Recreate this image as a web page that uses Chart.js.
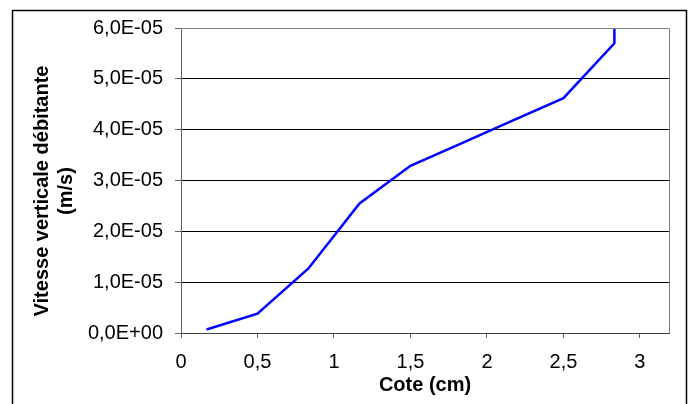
<!DOCTYPE html>
<html>
<head>
<meta charset="utf-8">
<title>Vitesse verticale débitante</title>
<script src="https://cdn.jsdelivr.net/npm/chart.js@4/dist/chart.umd.min.js"></script>
<style>
  body { margin: 0; background: #ffffff; }
  canvas { display: block; }
</style>
</head>
<body>
<canvas id="myChart" width="694" height="404"></canvas>
<script>
'use strict';

// Data
const cote = [0.167, 0.5, 0.833, 1.167, 1.5, 1.833, 2.167, 2.5, 2.833, 2.833];
const vitesse = [0.07e-5, 0.38e-5, 1.27e-5, 2.55e-5, 3.29e-5, 3.73e-5, 4.18e-5, 4.62e-5, 5.70e-5, 6.0e-5];

// Tick labels
const xTicks = [0, 0.5, 1, 1.5, 2, 2.5, 3];
const yTicks = [0, 1e-5, 2e-5, 3e-5, 4e-5, 5e-5, 6e-5];

// Axis texts
const xTitle = 'Cote (cm)';
const yTitle = ['Vitesse verticale débitante', '(m/s)'];

const fontFamily = "'Liberation Sans', Arial, sans-serif";
const ctx = document.getElementById('myChart');

// Helper Functions
function formatSci(value){
  if(Math.abs(value) < 1e-12){
    return '0,0E+00';
  }
  let parts = value.toExponential(1).split('e');
  let exp = parseInt(parts[1]);
  let sign = exp < 0 ? '-' : '+';
  return parts[0].replace('.', ',') + 'E' + sign + String(Math.abs(exp)).padStart(2, '0');
}

function formatCote(value){
  return String(value).replace('.', ',');
}

let points = [];
for(let i = 0; i < cote.length; i++){
  points.push({x: cote[i], y: vitesse[i]});
}

// draws the outer frame, the plot border and the y title
const framePlugin = {
  id: 'framePlugin',
  afterDraw(chart){
    const c = chart.ctx;
    const area = chart.chartArea;
    c.save();

    c.strokeStyle = '#808080';
    c.lineWidth = 1;
    c.beginPath();
    c.moveTo(area.left, area.top + 0.5);
    c.lineTo(area.right + 0.5, area.top + 0.5);
    c.lineTo(area.right + 0.5, area.bottom);
    c.stroke();

    c.strokeStyle = '#000000';
    c.lineWidth = 1.5;
    c.strokeRect(12.5, 10.5, 674, 400);

    c.fillStyle = '#000000';
    c.font = 'bold 20px ' + fontFamily;
    c.textAlign = 'center';
    c.textBaseline = 'middle';
    c.translate(42, 191);
    c.rotate(-Math.PI / 2);
    c.fillText(yTitle[0], 0, 0);
    c.fillText(yTitle[1], 0, 24);
    c.restore();
  }
};

let chartObj = {
  type: 'scatter',
  data: {
    datasets: [{
      data: points,
      showLine: true,
      borderColor: '#0000ff',
      borderWidth: 2.5,
      pointRadius: 0,
      tension: 0,
      fill: false
    }]
  },
  options: {
    responsive: false,
    animation: false,
    devicePixelRatio: 1,
    layout: {
      padding: {left: 0, top: 28, right: 25, bottom: 0}
    },
    plugins: {
      legend: {display: false},
      tooltip: {enabled: false}
    },
    scales: {
      x: {
        type: 'linear',
        min: 0,
        max: 3.19,
        afterBuildTicks: function(scale){
          scale.ticks = xTicks.map(v => ({value: v}));
        },
        afterFit: function(scale){
          scale.height = 71;
        },
        ticks: {
          color: '#000000',
          padding: 12,
          maxRotation: 0,
          autoSkip: false,
          font: {family: fontFamily, size: 20},
          callback: formatCote
        },
        grid: {
          drawOnChartArea: false,
          drawTicks: true,
          tickLength: 5,
          tickColor: '#606060'
        },
        border: {color: '#404040', width: 1},
        title: {
          display: true,
          text: xTitle,
          color: '#000000',
          font: {family: fontFamily, size: 20, weight: 'bold'},
          padding: {top: 0, bottom: 7}
        }
      },
      y: {
        min: 0,
        max: 6e-5,
        afterBuildTicks: function(scale){
          scale.ticks = yTicks.map(v => ({value: v}));
        },
        afterFit: function(scale){
          scale.width = 181;
        },
        ticks: {
          color: '#000000',
          padding: 12,
          autoSkip: false,
          font: {family: fontFamily, size: 20},
          callback: formatSci
        },
        grid: {
          color: function(context){
            return context.tick && context.tick.value >= 5.99e-5 ? '#808080' : '#000000';
          },
          drawTicks: true,
          tickLength: 6,
          tickColor: '#606060'
        },
        border: {color: '#606060', width: 1}
      }
    }
  },
  plugins: [framePlugin]
};

new Chart(ctx, chartObj);
</script>
</body>
</html>
